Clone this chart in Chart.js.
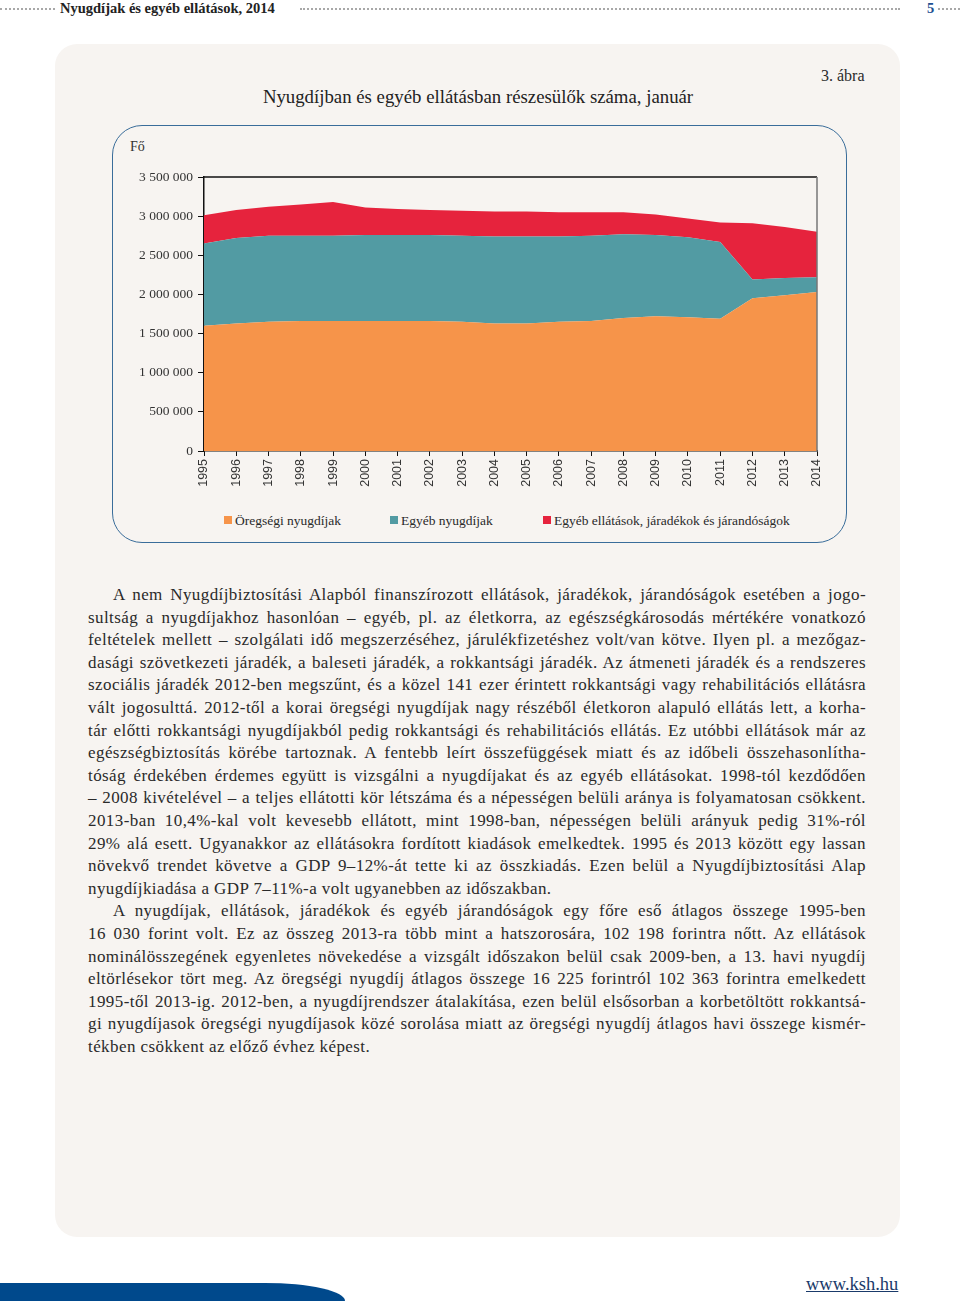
<!DOCTYPE html>
<html lang="hu">
<head>
<meta charset="utf-8">
<script src="https://cdn.jsdelivr.net/npm/chart.js@4"></script>
<style>
  body { margin:0; width:960px; height:1308px; background:#fff; position:relative; font-family:"Liberation Serif","Times New Roman",serif; color:#2a2a2a; overflow:hidden; }
  .abs { position:absolute; }
  .dots { position:absolute; top:8px; height:0; border-top:2px dotted #a8a8a8; }
  .card { position:absolute; left:55px; top:44px; width:845px; height:1193px; background:#f7f4f1; border-radius:22px; }
  .box { position:absolute; left:112px; top:125px; width:733px; height:416px; border:1.5px solid #3a6d9a; border-radius:30px; }
  .legend span.sq { display:inline-block; width:8px; height:8px; margin-right:3px; vertical-align:1px; }
  .legend .it { position:absolute; top:513px; font-size:13.5px; white-space:nowrap; }
  .text { position:absolute; left:88px; top:584px; width:778px; font-size:17px; letter-spacing:0.42px; line-height:22.6px; color:#2a2a2a; }
  .text div { text-align:justify; text-align-last:justify; white-space:nowrap; }
  .text div.last { text-align-last:left; }
  .text div.ind { padding-left:25px; }
</style>
</head>
<body>
<div class="dots" style="left:0;width:55px"></div>
<div class="abs" style="left:60px;top:0;font-size:14.5px;font-weight:bold;color:#222">Nyugdíjak és egyéb ellátások, 2014</div>
<div class="dots" style="left:300px;width:600px"></div>
<div class="abs" style="left:927px;top:0;font-size:14.5px;font-weight:bold;color:#1d4f91">5</div>
<div class="dots" style="left:938px;width:22px"></div>

<div class="card"></div>
<div class="abs" style="left:821px;top:67px;font-size:16px">3. ábra</div>
<div class="abs" style="left:0;width:956px;top:86px;text-align:center;font-size:18.8px;color:#222">Nyugdíjban és egyéb ellátásban részesülők száma, január</div>
<div class="box"></div>
<div class="abs" style="left:130px;top:139px;font-size:14px;color:#333">Fő</div>

<div class="abs" style="left:112px;top:160px;width:735px;height:345px">
  <canvas id="myChart"></canvas>
</div>

<div class="legend">
  <div class="it" style="left:224px"><span class="sq" style="background:#f6944a"></span>Öregségi nyugdíjak</div>
  <div class="it" style="left:390px"><span class="sq" style="background:#529ba3"></span>Egyéb nyugdíjak</div>
  <div class="it" style="left:543px"><span class="sq" style="background:#e6233d"></span>Egyéb ellátások, járadékok és járandóságok</div>
</div>

<div class="text">
<div class="ind">A nem Nyugdíjbiztosítási Alapból finanszírozott ellátások, járadékok, járandóságok esetében a jogo-</div>
<div>sultság a nyugdíjakhoz hasonlóan – egyéb, pl. az életkorra, az egészségkárosodás mértékére vonatkozó</div>
<div>feltételek mellett – szolgálati idő megszerzéséhez, járulékfizetéshez volt/van kötve. Ilyen pl. a mezőgaz-</div>
<div>dasági szövetkezeti járadék, a baleseti járadék, a rokkantsági járadék. Az átmeneti járadék és a rendszeres</div>
<div>szociális járadék 2012-ben megszűnt, és a közel 141 ezer érintett rokkantsági vagy rehabilitációs ellátásra</div>
<div>vált jogosulttá. 2012-től a korai öregségi nyugdíjak nagy részéből életkoron alapuló ellátás lett, a korha-</div>
<div>tár előtti rokkantsági nyugdíjakból pedig rokkantsági és rehabilitációs ellátás. Ez utóbbi ellátások már az</div>
<div>egészségbiztosítás körébe tartoznak. A fentebb leírt összefüggések miatt és az időbeli összehasonlítha-</div>
<div>tóság érdekében érdemes együtt is vizsgálni a nyugdíjakat és az egyéb ellátásokat. 1998-tól kezdődően</div>
<div>– 2008 kivételével – a teljes ellátotti kör létszáma és a népességen belüli aránya is folyamatosan csökkent.</div>
<div>2013-ban 10,4%-kal volt kevesebb ellátott, mint 1998-ban, népességen belüli arányuk pedig 31%-ról</div>
<div>29% alá esett. Ugyanakkor az ellátásokra fordított kiadások emelkedtek. 1995 és 2013 között egy lassan</div>
<div>növekvő trendet követve a GDP 9–12%-át tette ki az összkiadás. Ezen belül a Nyugdíjbiztosítási Alap</div>
<div class="last">nyugdíjkiadása a GDP 7–11%-a volt ugyanebben az időszakban.</div>
<div class="ind">A nyugdíjak, ellátások, járadékok és egyéb járandóságok egy főre eső átlagos összege 1995-ben</div>
<div>16 030 forint volt. Ez az összeg 2013-ra több mint a hatszorosára, 102 198 forintra nőtt. Az ellátások</div>
<div>nominálösszegének egyenletes növekedése a vizsgált időszakon belül csak 2009-ben, a 13. havi nyugdíj</div>
<div>eltörlésekor tört meg. Az öregségi nyugdíj átlagos összege 16 225 forintról 102 363 forintra emelkedett</div>
<div>1995-től 2013-ig. 2012-ben, a nyugdíjrendszer átalakítása, ezen belül elsősorban a korbetöltött rokkantsá-</div>
<div>gi nyugdíjasok öregségi nyugdíjasok közé sorolása miatt az öregségi nyugdíj átlagos havi összege kismér-</div>
<div class="last">tékben csökkent az előző évhez képest.</div>
</div>

<div class="abs" style="left:0;top:1283px;width:345px;height:18px;background:#00498c;border-top-right-radius:80px 18px"></div>
<div class="abs" style="left:806px;top:1274px;font-size:18.5px;color:#1a3a6a;text-decoration:underline">www.ksh.hu</div>

<script>
// 연도 (x축)
var years = ['1995','1996','1997','1998','1999','2000','2001','2002','2003','2004',
             '2005','2006','2007','2008','2009','2010','2011','2012','2013','2014'];
// Öregségi nyugdíjak
var oregsegi = [1600000,1630000,1650000,1660000,1660000,1660000,1660000,1660000,1650000,1630000,
                1630000,1650000,1660000,1700000,1720000,1710000,1690000,1950000,1990000,2030000];
// Egyéb nyugdíjak
var egyebNyugdij = [1050000,1090000,1100000,1090000,1090000,1100000,1100000,1100000,1100000,1110000,
                    1110000,1090000,1090000,1070000,1040000,1020000,980000,240000,220000,190000];
// Egyéb ellátások, járadékok és járandóságok
var egyebEllatas = [360000,360000,370000,400000,430000,350000,330000,320000,320000,320000,
                    320000,310000,300000,280000,260000,240000,250000,720000,650000,580000];
var yMax = 3500000, yStep = 500000;

function fmt(v) {
  return v.toString().replace(/\B(?=(\d{3})+(?!\d))/g, ' ');
}

// 플롯 영역 위쪽/오른쪽 테두리
var frame = {
  id: 'frame',
  afterDraw: function(chart) {
    var a = chart.chartArea, c = chart.ctx;
    c.save();
    c.lineWidth = 1.5;
    c.strokeStyle = '#111';
    c.beginPath(); c.moveTo(a.left, a.top); c.lineTo(a.right, a.top); c.stroke();
    c.strokeStyle = '#777';
    c.beginPath(); c.moveTo(a.right, a.top); c.lineTo(a.right, a.bottom); c.stroke();
    c.restore();
  }
};

var ctx = document.getElementById('myChart');
new Chart(ctx, {
  type: 'line',
  data: {
    labels: years,
    datasets: [
      { label: 'Öregségi nyugdíjak', data: oregsegi, fill: 'origin',
        backgroundColor: '#f6944a', borderWidth: 0, pointRadius: 0 },
      { label: 'Egyéb nyugdíjak', data: egyebNyugdij, fill: '-1',
        backgroundColor: '#529ba3', borderWidth: 0, pointRadius: 0 },
      { label: 'Egyéb ellátások, járadékok és járandóságok', data: egyebEllatas, fill: '-1',
        backgroundColor: '#e6233d', borderWidth: 0, pointRadius: 0 }
    ]
  },
  options: {
    responsive: true,
    maintainAspectRatio: false,
    animation: false,
    layout: { padding: { top: 17, right: 30, left: 0, bottom: 0 } },
    plugins: { legend: { display: false }, tooltip: { enabled: false } },
    elements: { line: { tension: 0 } },
    scales: {
      x: {
        offset: false,
        z: 1,
        border: { display: true, color: '#111', width: 1.5 },
        grid: { drawOnChartArea: false, drawTicks: true, tickLength: 5, color: '#111' },
        ticks: { autoSkip: false, minRotation: 90, maxRotation: 90, padding: 3, color: '#333',
                 font: { family: 'Liberation Sans, Arial, sans-serif', size: 12.5 } },
        afterFit: function(s) { s.height = 54; }
      },
      y: {
        stacked: true,
        min: 0, max: yMax,
        z: 1,
        border: { display: true, color: '#111', width: 1.5 },
        grid: { drawOnChartArea: false, drawTicks: true, tickLength: 6, color: '#111' },
        ticks: { stepSize: yStep, padding: 5, color: '#333',
                 font: { family: 'Liberation Serif, serif', size: 13.5 },
                 callback: function(v) { return fmt(v); } },
        afterFit: function(s) { s.width = 92; }
      }
    }
  },
  plugins: [frame]
});
</script>
</body>
</html>
